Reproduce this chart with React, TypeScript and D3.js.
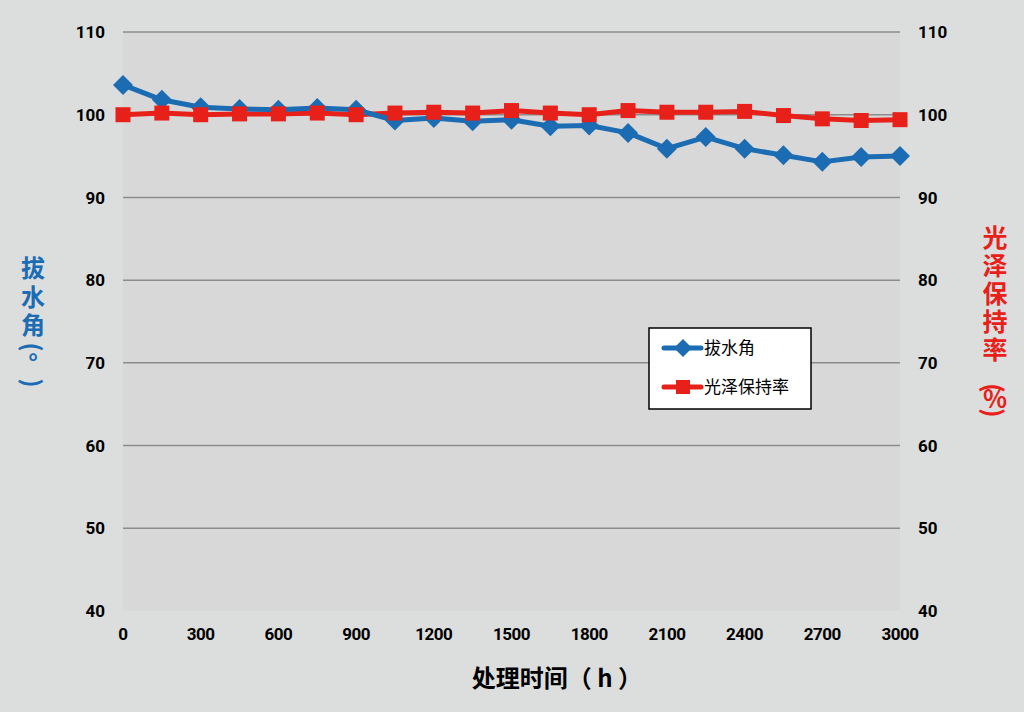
import React from 'react';
import * as d3 from 'd3';

const hours = [0, 150, 300, 450, 600, 750, 900, 1050, 1200, 1350, 1500, 1650, 1800, 1950, 2100, 2250, 2400, 2550, 2700, 2850, 3000];
const contactAngle = [103.6, 101.8, 100.9, 100.7, 100.6, 100.8, 100.6, 99.3, 99.6, 99.2, 99.4, 98.6, 98.7, 97.8, 95.9, 97.3, 95.9, 95.1, 94.3, 94.9, 95.0];
const glossRetention = [100.0, 100.2, 100.0, 100.1, 100.1, 100.2, 100.0, 100.2, 100.3, 100.2, 100.5, 100.2, 100.0, 100.5, 100.3, 100.3, 100.4, 99.9, 99.5, 99.3, 99.4];
const xTicks = [0, 300, 600, 900, 1200, 1500, 1800, 2100, 2400, 2700, 3000];
const yTicks = [40, 50, 60, 70, 80, 90, 100, 110];
const leftTitle = ['拔', '水', '角', '(', '°', ')'];
const rightTitle = ['光', '泽', '保', '持', '率', '(', '%', ')'];
const seriesNames = ['拔水角', '光泽保持率'];

const W = 1024;
const H = 712;
const BLUE = '#1c6cb4';
const RED = '#e8201a';
const FONT = '"Noto Sans CJK SC", "Noto Sans", sans-serif';
const NUMFONT = 'Roboto, "Noto Sans", sans-serif';

// draws one character of a vertical title; parentheses are turned a quarter
function VChar({ c, cx, cy, size, color }: { c: string; cx: number; cy: number; size: number; color: string }) {
  if (c === '(' || c === ')') {
    return (
      <text x={cx} y={cy} dominantBaseline="central" textAnchor="middle" fontFamily={FONT} fontWeight="bold"
        fontSize={size} fill={color} transform={`rotate(90 ${cx} ${cy})`}>{c}</text>
    );
  }
  if (c === '°') {
    return (
      <text x={cx} y={cy + size * 0.58} textAnchor="middle" fontFamily={FONT} fontWeight="bold" fontSize={size} fill={color}>{c}</text>
    );
  }
  return (
    <text x={cx} y={cy} dy="0.36em" textAnchor="middle" fontFamily={FONT} fontWeight="bold" fontSize={size} fill={color}>{c}</text>
  );
}

export default function App() {
  const x = d3.scaleLinear().domain([0, 3000]).range([123, 900]);
  const yL = d3.scaleLinear().domain([40, 110]).range([611, 32]);
  const yR = d3.scaleLinear().domain([40, 110]).range([611, 32]);

  const blueLine = d3.line<number>().x((_, i) => x(hours[i])).y(d => yL(d))(contactAngle) || '';
  const redLine = d3.line<number>().x((_, i) => x(hours[i])).y(d => yR(d))(glossRetention) || '';

  const diamond = (cx: number, cy: number, r: number) =>
    `M${cx},${cy - r}L${cx + r},${cy}L${cx},${cy + r}L${cx - r},${cy}Z`;

  const leftY = [268, 297, 325, 347, 358, 383];
  const rightY = [238, 266, 294, 322, 350, 388, 399, 413];

  return (
    <svg width={W} height={H} style={{ position: 'absolute', left: 0, top: 0, display: 'block' }}>
      <rect x={0} y={0} width={W} height={H} fill="#dcdedd" />
      <rect x={x(0)} y={yL(110)} width={x(3000) - x(0)} height={yL(40) - yL(110)} fill="#d8d8d8" />

      {yTicks.filter(t => t > 40).map(t => (
        <line key={t} x1={x(0)} x2={x(3000)} y1={yL(t)} y2={yL(t)} stroke="#8c8c8c" strokeWidth={1.5} />
      ))}

      {yTicks.map(t => (
        <text key={'l' + t} x={105} y={yL(t)} dy="0.36em" textAnchor="end" fontFamily={NUMFONT} fontWeight="bold" fontSize={17} fill="#000">{t}</text>
      ))}
      {yTicks.map(t => (
        <text key={'r' + t} x={918} y={yR(t)} dy="0.36em" textAnchor="start" fontFamily={NUMFONT} fontWeight="bold" fontSize={17} fill="#000">{t}</text>
      ))}
      {xTicks.map(t => (
        <text key={'x' + t} x={x(t)} y={634} dy="0.36em" textAnchor="middle" fontFamily={NUMFONT} fontWeight="bold" fontSize={17} fill="#000" letterSpacing={-0.5}>{t}</text>
      ))}

      <text x={557} y={678} dy="0.36em" textAnchor="middle" fontFamily={FONT} fontWeight="bold" fontSize={24} fill="#000">处理时间（ h ）</text>

      {leftTitle.map((c, i) => (
        <VChar key={'lt' + i} c={c} cx={33} cy={leftY[i]} size={24} color={BLUE} />
      ))}
      {rightTitle.map((c, i) => (
        <VChar key={'rt' + i} c={c} cx={995} cy={rightY[i]} size={25} color={RED} />
      ))}

      <path d={redLine} fill="none" stroke={RED} strokeWidth={5} strokeLinejoin="round" />
      <path d={blueLine} fill="none" stroke={BLUE} strokeWidth={5} strokeLinejoin="round" />
      {contactAngle.map((v, i) => (
        <path key={'b' + i} d={diamond(x(hours[i]), yL(v), 10)} fill={BLUE} />
      ))}
      {glossRetention.map((v, i) => (
        <rect key={'s' + i} x={x(hours[i]) - 7.5} y={yR(v) - 7.5} width={15} height={15} fill={RED} />
      ))}

      <rect x={649} y={328} width={162} height={81} fill="#fff" stroke="#000" strokeWidth={1.5} />
      <line x1={664} x2={701} y1={348} y2={348} stroke={BLUE} strokeWidth={5} strokeLinecap="round" />
      <path d={diamond(683, 348, 9)} fill={BLUE} />
      <text x={704} y={348} dy="0.36em" fontFamily={FONT} fontSize={17} fill="#000">{seriesNames[0]}</text>
      <line x1={664} x2={701} y1={387} y2={387} stroke={RED} strokeWidth={5} strokeLinecap="round" />
      <rect x={676} y={380} width={14} height={14} fill={RED} />
      <text x={704} y={387} dy="0.36em" fontFamily={FONT} fontSize={17} fill="#000">{seriesNames[1]}</text>
    </svg>
  );
}
